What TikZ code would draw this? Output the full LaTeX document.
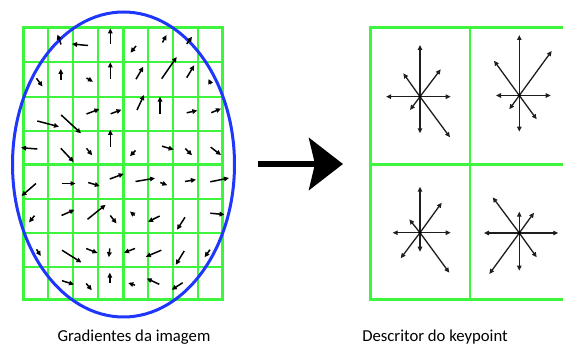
\documentclass[tikz,border=0pt]{standalone}
\usepackage{fontspec}
\setmainfont{Carlito}
\usetikzlibrary{arrows.meta}
\definecolor{gridgreen}{RGB}{60,245,60}
\definecolor{ellblue}{RGB}{30,55,250}
\definecolor{stargray}{RGB}{30,30,30}
\tikzset{
  thin grid/.style={draw=gridgreen,line width=1.3pt},
  thick grid/.style={draw=gridgreen,line width=3pt},
  grad/.style={-{Triangle[length=5pt,width=4.6pt]},line width=1.5pt,black},
  ray1/.style={-{Triangle[length=5pt,width=4.4pt]},line width=1.3pt,stargray},
  caption/.style={anchor=base,font=\fontsize{16.7pt}{18pt}\selectfont,text=black},
}
\newcommand{\grd}[4]{\draw[grad] (#1,#2) -- (#3,#4);}
\newcommand{\stararrows}[2]{%
  \coordinate (c) at (#1);
  \foreach \p in {#2} {\draw[ray1] (c) -- \p;}
  \fill[black] (c) circle (1.8pt);
}
\begin{document}
\begin{tikzpicture}[x=1pt,y=-1pt]
\useasboundingbox (0,0) rectangle (563,347);
\clip (0,0) rectangle (563,347);
% ---------- left grid ----------
\foreach \x in {48,73,98,148,173,198} \draw[thin grid] (\x,28) -- (\x,300);
\foreach \y in {62,97,131,199,233,267} \draw[thin grid] (23,\y) -- (222,\y);
\draw[thick grid] (123,28) -- (123,300);
\draw[thick grid] (23,165) -- (222,165);
\draw[thick grid] (23,28) rectangle (222,300);
% ---------- ellipse ----------
\draw[ellblue,line width=3pt] (123.5,164.5) ellipse [x radius=111pt,y radius=152.5pt];
% ---------- gradient arrows ----------
% row 0
\grd{61}{44.5}{57.5}{34.5}
\grd{88}{45.5}{72}{44}
\grd{110.3}{44}{110.3}{28.5}
\grd{136}{46}{130.5}{52.7}
\grd{162.5}{42.5}{166.5}{35}
\grd{186.7}{44}{192}{36.7}
% row 1
\grd{36.5}{78.3}{42.5}{86.5}
\grd{60.8}{80}{60.8}{69}
\grd{86.5}{78}{93}{81.7}
\grd{110.3}{79}{110.3}{62.5}
\grd{136}{79.2}{143.3}{66.7}
\grd{161.7}{78.7}{176.7}{57}
\grd{186.7}{77.7}{194.2}{65.3}
\grd{210.8}{84}{208.5}{79}
% row 2
\grd{37.3}{121}{59}{126.7}
\grd{61.2}{115}{81}{133.3}
\grd{86.5}{114}{99.5}{109}
\grd{110.7}{113.8}{121.5}{109.7}
\grd{137}{110}{144}{95}
\grd{160}{114}{160}{96.7}
\grd{186.7}{112.8}{197.3}{110.5}
\grd{211.3}{112.7}{221}{108.6}
% row 3
\grd{37.3}{149}{21}{147.7}
\grd{60.8}{148.3}{73.7}{162}
\grd{86.5}{148.3}{92.2}{155.3}
\grd{110.3}{146.7}{110.3}{130}
\grd{135.5}{150.5}{130}{156.2}
\grd{162}{146.2}{173.7}{149.6}
\grd{185.3}{148.5}{192}{155.3}
\grd{210.7}{147.2}{221}{155}
% row 4
\grd{36}{183.5}{21.5}{196}
\grd{61.5}{183.5}{75.5}{183.5}
\grd{88.2}{182.5}{99.8}{186}
\grd{109.8}{179}{123.7}{173.8}
\grd{135.5}{181.5}{155}{178.2}
\grd{160.3}{182.5}{167.3}{185.2}
\grd{185}{181.5}{196}{179.6}
\grd{210.3}{181.8}{229}{178}
% row 5
\grd{34.5}{215.7}{29}{222.4}
\grd{61.5}{215.5}{74.5}{209.8}
\grd{87.5}{219.3}{105.6}{204.8}
\grd{110.3}{215.5}{116.5}{223.5}
\grd{134.7}{215.5}{130}{211.5}
\grd{159.7}{216}{148}{221.8}
\grd{185}{217.3}{177}{229.7}
\grd{210.3}{213.2}{224.5}{214.6}
% row 6
\grd{36.5}{249.3}{40.8}{256}
\grd{62}{250.2}{81.5}{262.5}
\grd{86.2}{248.5}{97.5}{253}
\grd{109.8}{248.5}{108.8}{257.2}
\grd{135}{248.5}{124}{252.7}
\grd{161.3}{250.2}{145.8}{256.8}
\grd{184.2}{251}{175.8}{264.8}
\grd{210}{249.7}{204.6}{257.2}
% row 7
\grd{62}{280.7}{74}{284.5}
\grd{86.2}{283.5}{91.8}{290.2}
\grd{109.8}{282.7}{109.8}{272.7}
\grd{135}{285.2}{128.3}{283}
\grd{159.3}{284.3}{146.7}{278.5}
\grd{182.7}{282.7}{171.7}{289.8}
% ---------- big arrow ----------
\coordinate (bigA) at (258,164);
\coordinate (bigB) at (343,164);
\draw[line width=6pt,-{Stealth[length=34pt,width=52pt,inset=6pt]}] (bigA) -- (bigB);
% ---------- right grid ----------
\draw[thin grid,line width=2pt] (470,28) -- (470,300);
\draw[thick grid] (370,165) -- (575,165);
\draw[thick grid] (370,28) rectangle (575,300);
% ---------- descriptor stars ----------
\stararrows{420,96.7}{(420,45),(420,133.3),(386,96.7),(450.7,96.7),(403.3,73.3),(440.7,69.3),(410,110),(450,137.3)}
\stararrows{519.3,95.5}{(519.3,35),(519.3,131.7),(496,95.5),(550.7,95.5),(494,60.7),(551.7,51),(509.3,109.3),(536.7,119.3)}
\stararrows{420,232.7}{(420,186.7),(420,251.7),(392.7,232.7),(450.7,232.7),(409.3,219.3),(441.7,202.7),(400.7,258.3),(449.3,272.7)}
\stararrows{519.3,233}{(519.3,211.7),(519.3,270.7),(484,233),(558.3,233),(492.7,197.3),(534,212.7),(489.3,274),(536.7,257.3)}
% ---------- captions ----------
\node[caption] (capL) at (134,342) {Gradientes da imagem};
\node[caption] (capR) at (435,342) {Descritor do keypoint};
\end{tikzpicture}
\end{document}
